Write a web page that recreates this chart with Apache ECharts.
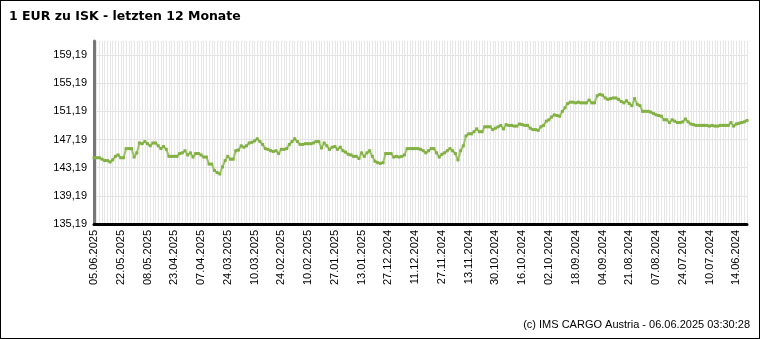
<!DOCTYPE html>
<html><head><meta charset="utf-8">
<script src="https://cdn.jsdelivr.net/npm/echarts@6/dist/echarts.min.js"></script>
<style>
html,body{margin:0;padding:0;background:#fff;}
#frame{position:absolute;left:0;top:0;width:760px;height:339px;box-sizing:border-box;border:1px solid #000;}
#chart{position:absolute;left:0;top:0;width:760px;height:339px;}
</style></head>
<body>
<div id="chart"></div>
<div id="frame"></div>
<script>
const titleText = '1 EUR zu ISK - letzten 12 Monate';
const footerText = '(c) IMS CARGO Austria - 06.06.2025 03:30:28';
const tickLabels = ['05.06.2025','22.05.2025','08.05.2025','23.04.2025','07.04.2025','24.03.2025','10.03.2025','24.02.2025','10.02.2025','27.01.2025','13.01.2025','27.12.2024','11.12.2024','27.11.2024','13.11.2024','30.10.2024','16.10.2024','02.10.2024','18.09.2024','04.09.2024','21.08.2024','07.08.2024','24.07.2024','10.07.2024','14.06.2024'];
const yTicks = [135.19,139.19,143.19,147.19,151.19,155.19,159.19];
const rates = [
144.6,144.6,144.6,144.4,144.2,144.2,144.0,144.3,144.8,145.0,
144.6,144.6,145.9,145.9,145.9,144.7,145.3,146.7,146.6,146.9,
146.6,146.3,146.7,146.7,146.3,145.9,146.2,145.8,144.8,144.8,
144.8,144.8,145.2,145.3,145.6,145.0,145.3,144.7,145.2,145.2,
145.0,144.7,144.7,143.7,143.7,142.8,142.5,142.3,143.3,144.2,
144.8,144.4,144.4,145.6,145.7,146.3,146.1,146.3,146.7,146.8,
147.0,147.3,146.9,146.5,145.9,145.8,145.6,145.5,145.6,145.2,
145.8,145.8,145.9,146.5,146.9,147.3,146.9,146.5,146.5,146.6,
146.6,146.6,146.7,146.9,146.9,146.0,146.7,146.3,145.8,146.1,
146.2,145.8,146.1,145.6,145.4,145.1,145.0,144.8,144.8,144.5,
145.3,144.8,145.3,145.6,144.8,144.1,143.9,143.8,143.9,145.2,
145.2,145.2,144.7,144.8,144.7,144.8,145.0,145.9,145.9,145.9,
145.9,145.9,145.8,145.6,145.3,145.6,145.9,145.9,145.3,144.7,
145.1,145.3,145.6,145.9,145.6,145.2,144.3,145.6,146.3,147.7,
148.0,148.0,148.3,148.7,148.3,148.3,149.0,149.0,149.0,148.6,
148.8,149.0,149.2,148.7,149.3,149.2,149.2,149.1,149.1,149.4,
149.3,149.2,149.2,148.8,148.6,148.6,148.5,149.0,149.2,149.8,
150.0,150.4,150.7,150.6,150.5,151.2,151.7,152.3,152.5,152.5,
152.4,152.5,152.4,152.4,152.4,152.8,152.4,152.4,153.4,153.6,
153.5,153.1,152.9,153.0,153.1,153.1,152.9,152.6,152.4,152.7,
152.3,152.0,153.0,152.2,152.0,151.2,151.2,151.2,151.1,150.9,
150.7,150.6,150.5,150.0,150.0,149.6,150.0,149.8,149.6,149.6,
149.7,150.1,149.7,149.4,149.3,149.2,149.2,149.2,149.2,149.2,
149.1,149.2,149.1,149.1,149.2,149.2,149.2,149.2,149.6,149.1,
149.4,149.5,149.6,149.7,149.9
];
const categories = rates.map((v, i) => (i % 10 === 0 && tickLabels[i / 10]) ? tickLabels[i / 10] : '');

const chart = echarts.init(document.getElementById('chart'), null, {renderer: 'canvas'});
chart.setOption({
  animation: false,
  backgroundColor: '#fff',
  title: [{
    text: titleText, left: 9, top: 10, padding: 0,
    textStyle: {fontFamily: 'DejaVu Sans', fontWeight: 'bold', fontSize: 12.5, color: '#000'}
  }, {
    text: footerText, right: 10, top: 319, padding: 0,
    textStyle: {fontFamily: 'Liberation Sans', fontWeight: 'normal', fontSize: 11, color: '#000'}
  }],
  grid: {left: 94, right: 13, top: 41, bottom: 115, containLabel: false},
  xAxis: {
    type: 'category', data: categories, boundaryGap: false,
    axisLine: {show: true, lineStyle: {color: '#000', width: 3}},
    axisTick: {show: false},
    axisLabel: {interval: 9, rotate: 90, margin: 6, fontFamily: 'Liberation Sans', fontSize: 11, color: '#000'},
    splitLine: {show: true, interval: 0, lineStyle: {color: '#e6e6e6', width: 1}}
  },
  yAxis: {
    type: 'value', min: 135.19, max: 161.19,
    axisLine: {show: true, lineStyle: {color: '#777', width: 3}},
    axisTick: {show: false, customValues: yTicks},
    axisLabel: {customValues: yTicks, margin: 7, fontFamily: 'Liberation Sans', fontSize: 11, color: '#000',
      formatter: v => v.toFixed(2).replace('.', ',')},
    splitLine: {show: true, customValues: yTicks, lineStyle: {color: '#e2e2e2', width: 1}}
  },
  series: [{
    type: 'line', data: rates,
    symbol: 'rect', symbolSize: 3, showSymbol: true, showAllSymbol: true,
    lineStyle: {color: '#9cc565', width: 2},
    itemStyle: {color: '#82b043', borderWidth: 0}
  }]
});
</script>
</body></html>
